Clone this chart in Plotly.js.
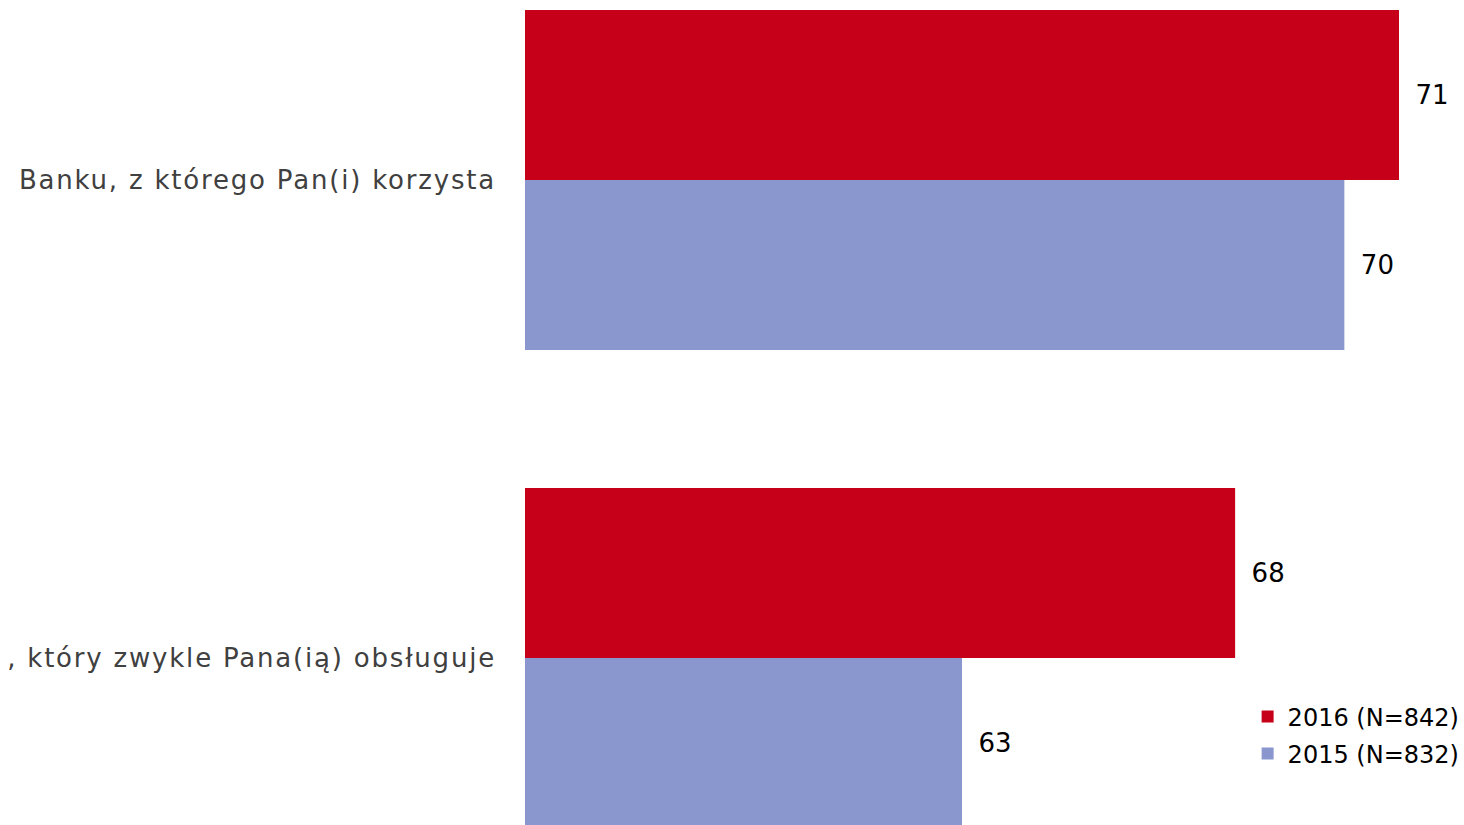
<!DOCTYPE html>
<html>
<head>
<meta charset="utf-8">
<script src="https://cdn.plot.ly/plotly-3.0.1.min.js"></script>
<style>
html,body{margin:0;padding:0;background:#fff;}
#chart{width:1464px;height:825px;}
#chart .ytick text{letter-spacing:1.8px;}
</style>
</head>
<body>
<div id="chart"></div>
<script>
const categories = ["Banku, z którego Pan(i) korzysta", ", który zwykle Pana(ią) obsługuje"];
const seriesNames = ["2016 (N=842)", "2015 (N=832)"];
const values2016 = [71, 68];
const values2015 = [70, 63];
const colors = ["#C50018", "#8A97CE"];

const PAD = "\u00a0\u2009";
function mk(name, vals, color, legendId) {
  return {
    type: "bar", orientation: "h", name: name,
    y: categories, x: vals,
    marker: {color: color},
    text: vals.map(v => PAD + v), textposition: "outside",
    textfont: {family: "DejaVu Sans", size: 26, color: "#000"},
    cliponaxis: false, hoverinfo: "none",
    legend: legendId
  };
}
const data = [
  mk(seriesNames[0], values2016, colors[0], "legend"),
  mk(seriesNames[1], values2015, colors[1], "legend2")
];
const legendBase = {
  xref: "container", yref: "container", xanchor: "left", yanchor: "middle",
  font: {family: "DejaVu Sans", size: 24, color: "#000"},
  bgcolor: "rgba(0,0,0,0)", borderwidth: 0, itemwidth: 30
};
const layout = {
  width: 1464, height: 825,
  margin: {l: 525, r: 0, t: 0, b: 0, pad: 0, autoexpand: false},
  paper_bgcolor: "#fff", plot_bgcolor: "#fff",
  barmode: "group", bargap: 0.289, bargroupgap: 0,
  font: {family: "DejaVu Sans", size: 22, color: "#404040"},
  xaxis: {range: [55, 72.19], visible: false, showgrid: false, zeroline: false, fixedrange: true},
  yaxis: {type: "category", range: [1.3494, -0.3766], showgrid: false, zeroline: false, showline: false,
          ticks: "", ticklabelstandoff: 28, tickfont: {family: "DejaVu Sans", size: 26, color: "#404040"}},
  showlegend: true,
  legend: Object.assign({}, legendBase, {x: 0.8522, y: 1 - 717 / 825}),
  legend2: Object.assign({}, legendBase, {x: 0.8522, y: 1 - 754 / 825})
};
Plotly.newPlot("chart", data, layout, {staticPlot: true, displayModeBar: false});
</script>
</body>
</html>
